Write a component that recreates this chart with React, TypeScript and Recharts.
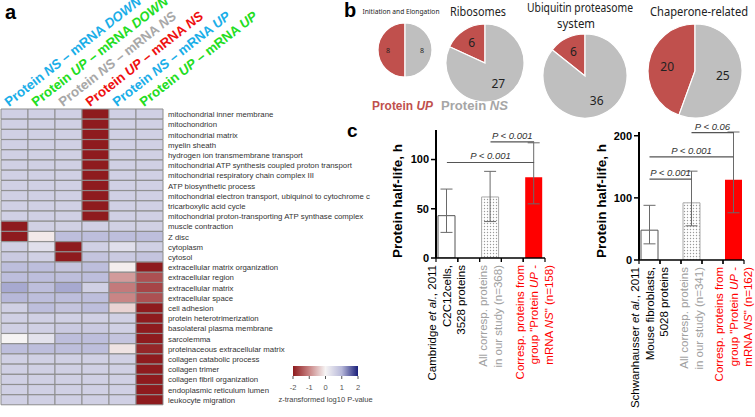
import React from "react";
import {
  BarChart,
  Bar,
  XAxis,
  YAxis,
  Cell,
  ErrorBar,
  ReferenceLine,
  PieChart,
  Pie,
} from "recharts";

// ---- panel a: GO terms x groups heatmap (z-transformed log10 P) ----
const goTerms = [
  "mitochondrial inner membrane",
  "mitochondrion",
  "mitochondrial matrix",
  "myelin sheath",
  "hydrogen ion transmembrane transport",
  "mitochondrial ATP synthesis coupled proton transport",
  "mitochondrial respiratory chain complex III",
  "ATP biosynthetic process",
  "mitochondrial electron transport, ubiquinol to cytochrome c",
  "tricarboxylic acid cycle",
  "mitochondrial proton-transporting ATP synthase complex",
  "muscle contraction",
  "Z disc",
  "cytoplasm",
  "cytosol",
  "extracellular matrix organization",
  "extracellular region",
  "extracellular matrix",
  "extracellular space",
  "cell adhesion",
  "protein heterotrimerization",
  "basolateral plasma membrane",
  "sarcolemma",
  "proteinaceous extracellular matrix",
  "collagen catabolic process",
  "collagen trimer",
  "collagen fibril organization",
  "endoplasmic reticulum lumen",
  "leukocyte migration",
];

const zNsDown = [0.6, 0.6, 0.6, 0.6, 0.6, 0.6, 0.6, 0.6, 0.6, 0.6, 0.6, -2, -2, 0.6, 0.7, 0.9, 0.9, 1.1, 1.0, 0.6, 0.6, 0.6, 0.0, 0.9, 0.6, 0.6, 0.6, 0.6, 0.6];
const zUpDown = [0.6, 0.6, 0.6, 0.6, 0.6, 0.6, 0.6, 0.6, 0.6, 0.6, 0.6, 0.6, -0.1, 0.35, 0.6, 0.9, 0.9, 0.9, 0.9, 0.9, 0.6, 0.6, 0.3, 0.9, 0.6, 0.6, 0.6, 0.6, 0.6];
const zNsNs = [0.6, 0.6, 0.6, 0.6, 0.6, 0.6, 0.6, 0.6, 0.6, 0.6, 0.6, 0.6, 0.9, -2, -2, 0.8, 0.9, 1.1, 0.9, 0.8, 0.6, 0.7, 0.9, 0.9, 0.6, 0.6, 0.6, 0.6, 0.6];
const zUpNs = [-2, -2, -2, -2, -2, -2, -2, -2, -2, -2, -2, 0.6, 0.9, 0.6, 0.8, 0.9, 0.9, 0.6, 0.9, 0.9, 0.6, 0.7, 0.9, 0.9, 0.6, 0.6, 0.6, 0.6, 0.6];
const zNsUp = [0.6, 0.6, 0.6, 0.6, 0.6, 0.6, 0.6, 0.6, 0.6, 0.6, 0.6, 0.6, 0.9, 0.35, 0.7, -0.05, -0.8, -1.1, -1.0, -0.3, 0.6, 0.6, 0.8, -0.15, 0.6, 0.6, 0.6, 0.6, 0.6];
const zUpUp = [0.6, 0.6, 0.6, 0.6, 0.6, 0.6, 0.6, 0.6, 0.6, 0.6, 0.6, 0.6, 0.9, 0.6, 0.8, -2, -1.5, -1.6, -1.5, -2, -2, -2, -2, -1.9, -2, -2, -2, -2, -2];
const heatColumns = [zNsDown, zUpDown, zNsNs, zUpNs, zNsUp, zUpUp];

const groupProtein = ["NS", "UP", "NS", "UP", "NS", "UP"];
const groupMrna = ["DOWN", "DOWN", "NS", "NS", "UP", "UP"];
const groupColors = ["#1aaee8", "#22dd22", "#a8a8a8", "#ee1111", "#1aaee8", "#22dd22"];

const colorbarTicks = [-2, -1, 0, 1, 2];

// ---- panel b: pies (Protein UP vs Protein NS) ----
const pieInitiation = [8, 8];
const pieRibosomes = [6, 27];
const pieUbiquitin = [6, 36];
const pieChaperone = [20, 25];

// ---- panel c: protein half-life ----
const slots = ["published", "gapA", "ours", "gapB", "upNs"];
const halfLifeCambridge = [43, null, 62, null, 82];
const errLowCambridge = [17, null, 25, null, 27];
const errHighCambridge = [27, null, 26, null, 35];
const halfLifeSchwan = [48, null, 92, null, 129];
const errLowSchwan = [22, null, 37, null, 53];
const errHighSchwan = [40, null, 51, null, 77];

const labelsCambridge = [
  ["Cambridge *et al.*, 2011", "C2C12cells,", "3528 proteins"],
  [],
  ["All corresp. proteins", "in our study (n=368)"],
  [],
  ["Corresp. proteins from", "group \"Protein *UP* -", "mRNA *NS*\" (n=158)"],
];
const labelsSchwan = [
  ["Schwanhausser *et al.*, 2011", "Mouse fibroblasts,", "5028 proteins"],
  [],
  ["All corresp. proteins", "in our study (n=341)"],
  [],
  ["Corresp. proteins from", "group \"Protein *UP* -", "mRNA *NS*\" (n=162)"],
];
const slotColors = ["#000000", "#000000", "#a0a0a0", "#000000", "#ff0000"];

const sigCambridge = [
  { from: "ours", to: "upNs", y: 118, text: "P < 0.001" },
  { from: "published", to: "upNs", y: 97, text: "P < 0.001" },
];
const sigSchwan = [
  { from: "ours", to: "upNs", y: 205, text: "P < 0.06" },
  { from: "published", to: "upNs", y: 166, text: "P < 0.001" },
  { from: "published", to: "ours", y: 130, text: "P < 0.001" },
];

const FONT = '"Liberation Sans", Arial, sans-serif';
const CAL = '"Noto Sans", "Open Sans", sans-serif';
const PIE_RED = "#c0504d";
const PIE_GRAY = "#bfbfbf";

const heatStops: [number, number[]][] = [
  [-2, [142, 27, 30]],
  [-1, [201, 133, 133]],
  [0, [246, 244, 244]],
  [1, [183, 184, 217]],
  [2, [26, 31, 122]],
];
function heatColor(z: number) {
  const v = Math.max(-2, Math.min(2, z));
  for (let i = 0; i < heatStops.length - 1; i++) {
    const [a, ca] = heatStops[i];
    const [b, cb] = heatStops[i + 1];
    if (v <= b) {
      const t = (v - a) / (b - a);
      const c = ca.map((x, k) => Math.round(x + (cb[k] - x) * t));
      return `rgb(${c[0]},${c[1]},${c[2]})`;
    }
  }
  return "rgb(26,31,122)";
}

const heatData = goTerms.map((term) => ({ term, c0: 1, c1: 1, c2: 1, c3: 1, c4: 1, c5: 1 }));

const HeaderTick = (props: any) => {
  const { x, y, payload } = props;
  const i = Math.floor(payload.value);
  const sx = x - 5.5;
  const sy = y + 2;
  return (
    <text
      x={sx}
      y={sy}
      transform={`rotate(-38 ${sx} ${sy})`}
      fill={groupColors[i]}
      fontSize={13.3}
      fontWeight="bold"
      fontFamily={FONT}
    >
      Protein <tspan fontStyle="italic">{groupProtein[i]}</tspan> – mRNA{" "}
      <tspan fontStyle="italic">{groupMrna[i]}</tspan>
    </text>
  );
};

const RowTick = (props: any) => {
  const { x, y, payload } = props;
  return (
    <text x={x} y={y} dy={3} fontSize={7.8} fill="#333" fontFamily={FONT}>
      {payload.value}
    </text>
  );
};

const renderMarked = (line: string) =>
  line.split("*").map((seg, k) =>
    k % 2 === 1 ? (
      <tspan key={k} fontStyle="italic">
        {seg}
      </tspan>
    ) : (
      <tspan key={k}>{seg}</tspan>
    )
  );

const makeSlotTick = (labels: string[][], half: number) => (props: any) => {
  const { x, y, index } = props;
  const lines = labels[index] || [];
  return (
    <g>
      <line x1={x - half} x2={x - half} y1={y} y2={y + 4} stroke="#000" strokeWidth={1.2} />
      <line x1={x + half} x2={x + half} y1={y} y2={y + 4} stroke="#000" strokeWidth={1.2} />
      {lines.map((ln, i) => {
        const lx = x + (i - (lines.length - 1) / 2) * 14.5 + 4;
        const ly = y + 7;
        return (
          <text
            key={i}
            x={lx}
            y={ly}
            transform={`rotate(-90 ${lx} ${ly})`}
            textAnchor="end"
            fontSize={11.5}
            fill={slotColors[index]}
            fontFamily={FONT}
          >
            {renderMarked(ln)}
          </text>
        );
      })}
    </g>
  );
};

const pieLabel = (size: number, frac: number) => (p: any) => {
  const RAD = Math.PI / 180;
  const r = p.outerRadius * frac;
  const x = p.cx + r * Math.cos(-p.midAngle * RAD);
  const y = p.cy + r * Math.sin(-p.midAngle * RAD);
  return (
    <text x={x} y={y} textAnchor="middle" dominantBaseline="central" fontSize={size} fill="#222" fontFamily={CAL}>
      {p.value}
    </text>
  );
};

const toPie = (vals: number[]) => vals.map((v, i) => ({ name: i === 0 ? "Protein UP" : "Protein NS", v }));

type PanelProps = {
  left: number;
  width: number;
  yWidth: number;
  mRight: number;
  mTop: number;
  xHeight: number;
  domain: number[];
  ticks: number[];
  half: number;
  values: (number | null)[];
  low: (number | null)[];
  high: (number | null)[];
  labels: string[][];
  sig: { from: string; to: string; y: number; text: string }[];
};

const HalfLifePanel = (p: PanelProps) => {
  const data = slots.map((s, i) => ({
    slot: s,
    h: p.values[i],
    err: p.values[i] == null ? null : [p.low[i], p.high[i]],
  }));
  return (
    <div style={{ position: "absolute", left: p.left, top: 120 }}>
      <BarChart
        width={p.width}
        height={297}
        data={data}
        barSize={17}
        margin={{ top: p.mTop, right: p.mRight, left: 0, bottom: 0 }}
      >
        <XAxis
          dataKey="slot"
          interval={0}
          height={p.xHeight}
          tickLine={false}
          tickSize={0}
          tickMargin={0}
          axisLine={{ stroke: "#000", strokeWidth: 1.5 }}
          tick={makeSlotTick(p.labels, p.half)}
        />
        <YAxis
          domain={p.domain}
          ticks={p.ticks}
          interval={0}
          width={p.yWidth}
          allowDataOverflow
          axisLine={{ stroke: "#000", strokeWidth: 2 }}
          tickLine={{ stroke: "#000", strokeWidth: 1.5 }}
          tickSize={5}
          tickMargin={2}
          tick={{ fontSize: 11, fontWeight: "bold", fill: "#000" }}
        />
        <Bar dataKey="h" isAnimationActive={false}>
          {data.map((d, i) => (
            <Cell
              key={i}
              fill={i === 0 ? "#ffffff" : i === 2 ? "url(#dotFill)" : i === 4 ? "#ff0000" : "none"}
              stroke={i === 0 ? "#555" : i === 2 ? "#aaa" : "none"}
              strokeWidth={1}
            />
          ))}
          <ErrorBar dataKey="err" width={6} stroke="#6a6a6a" strokeWidth={1} />
        </Bar>
        {p.sig.map((s, i) => (
          <ReferenceLine
            key={i}
            segment={[
              { x: s.from, y: s.y },
              { x: s.to, y: s.y },
            ]}
            stroke="#555"
            strokeWidth={1.2}
            label={{ value: s.text, position: "top", offset: 3, fontSize: 9.5, fontStyle: "italic", fill: "#333" }}
          />
        ))}
      </BarChart>
    </div>
  );
};

const pies = [
  { vals: pieInitiation, cx: 45, cy: 45, r: 27, size: 7, frac: 0.63 },
  { vals: pieRibosomes, cx: 125, cy: 58, r: 39, size: 12, frac: 0.63 },
  { vals: pieUbiquitin, cx: 225, cy: 71, r: 42, size: 12, frac: 0.64 },
  { vals: pieChaperone, cx: 335, cy: 66, r: 47, size: 12, frac: 0.6 },
];

export default function App() {
  return (
    <div
      style={{
        position: "absolute",
        left: 0,
        top: 0,
        width: 755,
        height: 417,
        background: "#fff",
        overflow: "hidden",
        fontFamily: FONT,
      }}
    >
      <svg width={0} height={0} style={{ position: "absolute" }}>
        <defs>
          <pattern id="dotFill" width={3} height={3} patternUnits="userSpaceOnUse">
            <rect width={3} height={3} fill="#fff" />
            <circle cx={1.5} cy={1.5} r={0.7} fill="#9a9a9a" />
          </pattern>
          <linearGradient id="zgrad" x1="0" x2="1" y1="0" y2="0">
            <stop offset="0" stopColor="#8e1b1e" />
            <stop offset="0.25" stopColor="#c98585" />
            <stop offset="0.5" stopColor="#f6f4f4" />
            <stop offset="0.75" stopColor="#b7b8d9" />
            <stop offset="1" stopColor="#1a1f7a" />
          </linearGradient>
        </defs>
      </svg>

      {/* a: heatmap */}
      <div style={{ position: "absolute", left: 0, top: 0 }}>
        <BarChart
          width={390}
          height={417}
          layout="vertical"
          data={heatData}
          barCategoryGap={0}
          margin={{ top: 0, right: 0, left: 1, bottom: 12 }}
        >
          <XAxis
            type="number"
            domain={[0, 6]}
            ticks={[0.5, 1.5, 2.5, 3.5, 4.5, 5.5]}
            interval={0}
            orientation="top"
            height={109}
            axisLine={false}
            tickLine={false}
            tickSize={0}
            tickMargin={4}
            tick={HeaderTick}
          />
          <YAxis
            type="category"
            dataKey="term"
            orientation="right"
            width={227}
            interval={0}
            axisLine={false}
            tickLine={false}
            tickSize={0}
            tickMargin={5}
            tick={RowTick}
          />
          {heatColumns.map((col, j) => (
            <Bar key={j} dataKey={`c${j}`} stackId="h" isAnimationActive={false}>
              {col.map((z, i) => (
                <Cell key={i} fill={heatColor(z)} stroke="#8d8d8d" strokeWidth={1} />
              ))}
            </Bar>
          ))}
        </BarChart>
      </div>

      {/* colour key */}
      <div style={{ position: "absolute", left: 263, top: 356 }}>
        <BarChart
          width={130}
          height={50}
          layout="vertical"
          data={[{ k: "z", range: [colorbarTicks[0], colorbarTicks[colorbarTicks.length - 1]] }]}
          barCategoryGap={0}
          margin={{ top: 10, right: 35, left: 30, bottom: 0 }}
        >
          <XAxis
            type="number"
            domain={[-2, 2]}
            ticks={colorbarTicks}
            interval={0}
            height={30}
            axisLine={false}
            tickLine={{ stroke: "#555" }}
            tickSize={3}
            tickMargin={6}
            tick={{ fontSize: 7.5, fill: "#555" }}
            label={{ value: "z-transformed log10 P-value", position: "insideBottom", offset: 4, fontSize: 7.5, fill: "#444" }}
          />
          <YAxis type="category" dataKey="k" hide />
          <Bar dataKey="range" fill="url(#zgrad)" isAnimationActive={false} />
        </BarChart>
      </div>

      {/* b: pies */}
      <div style={{ position: "absolute", left: 355, top: 0 }}>
        <PieChart width={400} height={120}>
          {pies.map((pp, k) => (
            <Pie
              key={k}
              data={toPie(pp.vals)}
              dataKey="v"
              cx={pp.cx}
              cy={pp.cy}
              outerRadius={pp.r}
              startAngle={90}
              endAngle={450}
              stroke="#fff"
              strokeWidth={1.2}
              labelLine={false}
              label={pieLabel(pp.size, pp.frac)}
              isAnimationActive={false}
            >
              <Cell fill={PIE_RED} />
              <Cell fill={PIE_GRAY} />
            </Pie>
          ))}
        </PieChart>
      </div>

      {/* c: half-life bars */}
      <HalfLifePanel
        left={375}
        width={185}
        yWidth={61}
        mRight={15}
        mTop={10}
        xHeight={159}
        domain={[0, 130]}
        ticks={[0, 50, 100]}
        half={10.9}
        values={halfLifeCambridge}
        low={errLowCambridge}
        high={errHighCambridge}
        labels={labelsCambridge}
        sig={sigCambridge}
      />
      <HalfLifePanel
        left={575}
        width={180}
        yWidth={64}
        mRight={11}
        mTop={12}
        xHeight={157}
        domain={[0, 206]}
        ticks={[0, 100, 200]}
        half={10.5}
        values={halfLifeSchwan}
        low={errLowSchwan}
        high={errHighSchwan}
        labels={labelsSchwan}
        sig={sigSchwan}
      />

      {/* panel letters, titles */}
      <svg width={755} height={417} style={{ position: "absolute", left: 0, top: 0, pointerEvents: "none" }}>
        <text x={5} y={19} fontSize={20} fontWeight="bold" fontFamily={FONT}>a</text>
        <text x={344} y={17} fontSize={20} fontWeight="bold" fontFamily={FONT}>b</text>
        <text x={347} y={137} fontSize={19} fontWeight="bold" fontFamily={FONT}>c</text>

        <text x={401} y={14} fontSize={6.5} textAnchor="middle" fontFamily={CAL} fill="#222" textLength={77} lengthAdjust="spacingAndGlyphs">
          Initiation and Elongation
        </text>
        <text x={478} y={16} fontSize={12.5} textAnchor="middle" fontFamily={CAL} fill="#222" textLength={56} lengthAdjust="spacingAndGlyphs">
          Ribosomes
        </text>
        <text x={580} y={12} fontSize={12} textAnchor="middle" fontFamily={CAL} fill="#222" textLength={106} lengthAdjust="spacingAndGlyphs">
          Ubiquitin proteasome
        </text>
        <text x={576} y={27.5} fontSize={12} textAnchor="middle" fontFamily={CAL} fill="#222" textLength={38} lengthAdjust="spacingAndGlyphs">
          system
        </text>
        <text x={699} y={16} fontSize={12} textAnchor="middle" fontFamily={CAL} fill="#222" textLength={98} lengthAdjust="spacingAndGlyphs">
          Chaperone-related
        </text>

        <text x={372} y={110} fontSize={12.5} fontWeight="bold" fill={PIE_RED} fontFamily={FONT} textLength={61} lengthAdjust="spacingAndGlyphs">
          Protein <tspan fontStyle="italic">UP</tspan>
        </text>
        <text x={441} y={110} fontSize={12.5} fontWeight="bold" fill="#a6a6a6" fontFamily={FONT} textLength={67} lengthAdjust="spacingAndGlyphs">
          Protein <tspan fontStyle="italic">NS</tspan>
        </text>

        <text x={402} y={201} transform="rotate(-90 402 201)" textAnchor="middle" fontSize={13.5} fontWeight="bold" fontFamily={FONT}>
          Protein half-life, h
        </text>
        <text x={606} y={201} transform="rotate(-90 606 201)" textAnchor="middle" fontSize={13.5} fontWeight="bold" fontFamily={FONT}>
          Protein half-life, h
        </text>
      </svg>
    </div>
  );
}
